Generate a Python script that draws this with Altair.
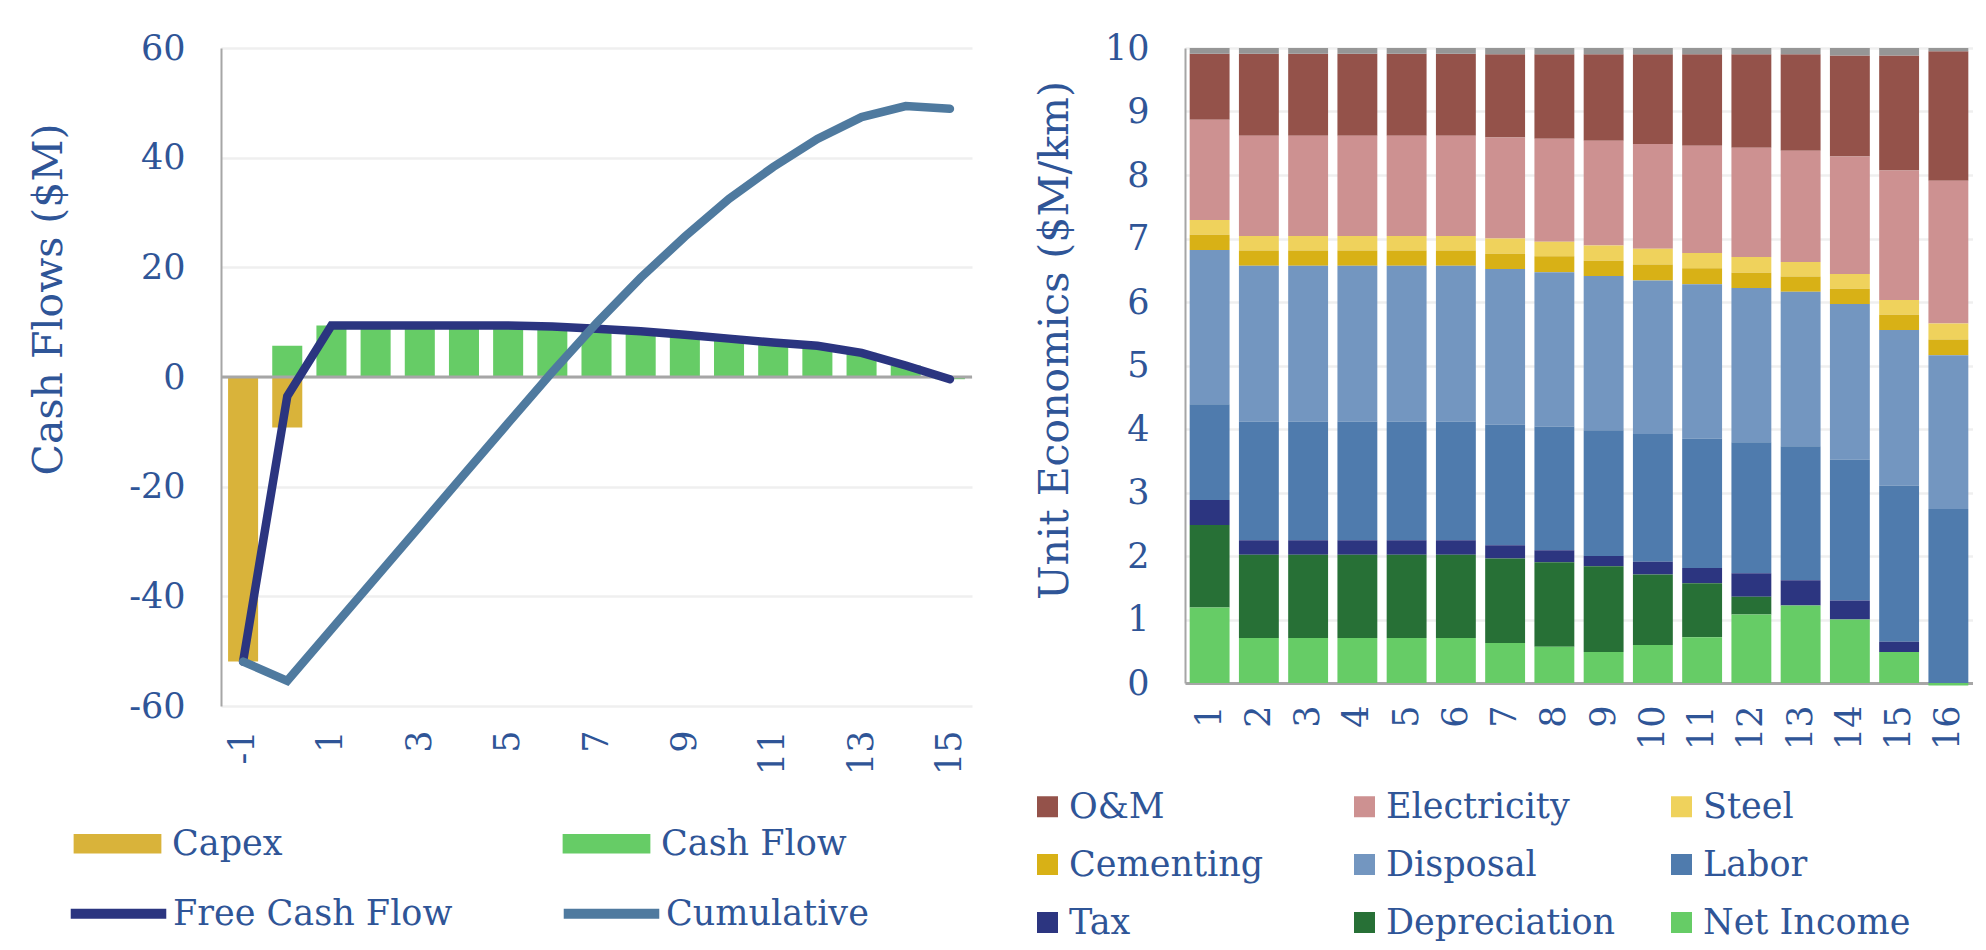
import altair as alt
import pandas as pd

# ---------------- Cash flow panel ($M by project year) ----------------
years = list(range(-1, 16))
capex = [-51.9, -9.2, 0, 0, 0, 0, 0, 0, 0, 0, 0, 0, 0, 0, 0, 0, 0]
cash_flow = [0, 5.7, 9.4, 9.4, 9.4, 9.4, 9.4, 9.2, 8.8, 8.35, 7.7, 7.0, 6.3, 5.7, 4.4, 2.1, -0.4]
free_cash_flow = [-51.9, -3.5, 9.4, 9.4, 9.4, 9.4, 9.4, 9.2, 8.8, 8.35, 7.7, 7.0, 6.3, 5.7, 4.4, 2.1, -0.4]
cumulative = [-51.9, -55.4, -46.0, -36.6, -27.2, -17.8, -8.4, 0.9, 9.8, 18.1, 25.6, 32.5, 38.3, 43.4, 47.4, 49.4, 48.9]
odd_year_ticks = [-1, 1, 3, 5, 7, 9, 11, 13, 15]

# ---------------- Unit economics panel ($M/km by year) ----------------
periods = list(range(1, 17))
om = [1.04, 1.29, 1.29, 1.29, 1.29, 1.29, 1.31, 1.33, 1.36, 1.41, 1.44, 1.47, 1.52, 1.59, 1.81, 2.04]
electricity = [1.58, 1.58, 1.58, 1.58, 1.58, 1.58, 1.59, 1.62, 1.65, 1.65, 1.69, 1.72, 1.75, 1.85, 2.04, 2.25]
steel = [0.23, 0.23, 0.23, 0.23, 0.23, 0.23, 0.24, 0.23, 0.24, 0.25, 0.24, 0.25, 0.23, 0.23, 0.23, 0.25]
cementing = [0.24, 0.24, 0.24, 0.24, 0.24, 0.24, 0.24, 0.25, 0.24, 0.25, 0.25, 0.24, 0.24, 0.24, 0.24, 0.25]
disposal = [2.43, 2.45, 2.45, 2.45, 2.45, 2.45, 2.45, 2.43, 2.43, 2.42, 2.43, 2.43, 2.43, 2.45, 2.45, 2.42]
labor = [1.51, 1.87, 1.87, 1.87, 1.87, 1.87, 1.90, 1.95, 1.98, 2.01, 2.04, 2.06, 2.11, 2.22, 2.46, 2.74]
tax = [0.39, 0.23, 0.23, 0.23, 0.23, 0.23, 0.21, 0.19, 0.16, 0.20, 0.24, 0.37, 0.40, 0.30, 0.16, 0.0]
depreciation = [1.30, 1.31, 1.31, 1.31, 1.31, 1.31, 1.33, 1.33, 1.35, 1.11, 0.85, 0.28, 0.0, 0.0, 0.0, 0.0]
net_income = [1.19, 0.71, 0.71, 0.71, 0.71, 0.71, 0.63, 0.57, 0.49, 0.60, 0.72, 1.08, 1.22, 1.00, 0.49, -0.04]
other = [0.09, 0.09, 0.09, 0.09, 0.09, 0.09, 0.10, 0.10, 0.10, 0.10, 0.10, 0.10, 0.10, 0.12, 0.12, 0.05]

FONT = "DejaVu Serif"
TEXT = "#2F5597"
AXIS_GREY = "#A6A6A6"
GRID = "#EFEFEF"

# ---- long-form tables ----
bar_rows = []
for series, vals in [("Capex", capex), ("Cash Flow", cash_flow)]:
    for yr, v in zip(years, vals):
        if v != 0:
            bar_rows.append({"year": yr, "series": series, "value": v})
bar_df = pd.DataFrame(bar_rows)

line_rows = []
for series, vals in [("Free Cash Flow", free_cash_flow), ("Cumulative", cumulative)]:
    for yr, v in zip(years, vals):
        line_rows.append({"year": yr, "series": series, "value": v})
line_df = pd.DataFrame(line_rows)

legend_order = ["O&M", "Electricity", "Steel", "Cementing", "Disposal",
                "Labor", "Tax", "Depreciation", "Net Income", "Other"]
component_colors = ["#94524A", "#CD9191", "#EFD25C", "#D8B116", "#7396C0",
                    "#4F7BAD", "#2C3580", "#277036", "#66CC66", "#969696"]
component_values = {
    "O&M": om, "Electricity": electricity, "Steel": steel, "Cementing": cementing,
    "Disposal": disposal, "Labor": labor, "Tax": tax, "Depreciation": depreciation,
    "Net Income": net_income, "Other": other,
}
stack_bottom_up = ["Net Income", "Depreciation", "Tax", "Labor", "Disposal",
                   "Cementing", "Steel", "Electricity", "O&M", "Other"]
unit_rows = []
for comp in legend_order:
    for p, v in zip(periods, component_values[comp]):
        unit_rows.append({"period": p, "component": comp, "value": v,
                          "rank": stack_bottom_up.index(comp)})
unit_df = pd.DataFrame(unit_rows)

label_style = dict(labelFont=FONT, labelFontSize=35, labelColor=TEXT)
title_style = dict(titleFont=FONT, titleFontSize=41, titleFontWeight="normal", titleColor=TEXT)
hyphen_labels = "datum.value < 0 ? '-' + abs(datum.value) : '' + datum.value"

# ---------------- left: cash flows ----------------
x_left = alt.X(
    "year:O", title=None,
    scale=alt.Scale(paddingInner=0.32, paddingOuter=0.16),
    axis=alt.Axis(values=odd_year_ticks, labelAngle=270, domain=False, ticks=False,
                  grid=False, labelPadding=24, **label_style),
)
y_left = alt.Y(
    "value:Q", title="Cash Flows ($M)",
    scale=alt.Scale(domain=[-60, 60], nice=False),
    axis=alt.Axis(values=[-60, -40, -20, 0, 20, 40, 60], ticks=False, domain=True,
                  domainColor=AXIS_GREY, domainWidth=2, gridColor=GRID, gridWidth=2.5,
                  labelPadding=36, labelExpr=hyphen_labels,
                  titleX=-172, titleY=251, titleAngle=270,
                  titleAlign="center", titleBaseline="middle",
                  **label_style, **title_style),
)

bars = alt.Chart(bar_df).mark_bar().encode(
    x=x_left,
    y=y_left,
    color=alt.Color(
        "series:N",
        scale=alt.Scale(domain=["Capex", "Cash Flow"], range=["#D9B33A", "#66CC66"]),
        legend=alt.Legend(
            title=None, orient="none", direction="horizontal", legendX=-147, legendY=776,
            columns=2, gridAlign="all", columnPadding=204, padding=0,
            symbolType="M-2.25,-0.5H2.25V0.5H-2.25Z", symbolSize=1521,
            symbolStrokeWidth=0, symbolOffset=24, labelOffset=35,
            labelLimit=600, labelFont=FONT, labelFontSize=35, labelColor=TEXT,
        ),
    ),
)

zero_line = alt.Chart(pd.DataFrame({"zero": [0]})).mark_rule(
    color=AXIS_GREY, strokeWidth=3
).encode(y=alt.Y("zero:Q"))

lines = alt.Chart(line_df).mark_line(strokeWidth=8.5, strokeCap="round").encode(
    x=x_left,
    y=alt.Y("value:Q"),
    stroke=alt.Stroke(
        "series:N",
        scale=alt.Scale(domain=["Free Cash Flow", "Cumulative"], range=["#2B3580", "#4F7A9F"]),
        legend=alt.Legend(
            title=None, orient="none", direction="horizontal", legendX=-147, legendY=841,
            columns=2, gridAlign="all", columnPadding=90, padding=0,
            symbolType="M-2.45,0H2.45", symbolSize=1521, symbolStrokeWidth=10,
            symbolOffset=20, labelOffset=30,
            labelLimit=600, labelFont=FONT, labelFontSize=35, labelColor=TEXT,
        ),
    ),
)

left = alt.layer(bars, zero_line, lines).properties(width=751, height=658)

# ---------------- right: unit economics ----------------
right = alt.Chart(unit_df).mark_bar().encode(
    x=alt.X(
        "period:O", title=None,
        scale=alt.Scale(paddingInner=0.19, paddingOuter=0.095),
        axis=alt.Axis(labelAngle=270, domain=True, domainColor=AXIS_GREY, domainWidth=3,
                      ticks=False, grid=False, labelPadding=22, **label_style),
    ),
    y=alt.Y(
        "value:Q", title="Unit Economics ($M/km)", stack="zero",
        scale=alt.Scale(domain=[0, 10], nice=False),
        axis=alt.Axis(values=list(range(0, 11)), ticks=False, domain=True,
                      domainColor=AXIS_GREY, domainWidth=2, gridColor=GRID, gridWidth=2.5,
                      labelPadding=36, titleX=-130, titleY=292, titleAngle=270,
                      titleAlign="center", titleBaseline="middle",
                      **label_style, **title_style),
    ),
    color=alt.Color(
        "component:N",
        scale=alt.Scale(domain=legend_order, range=component_colors),
        legend=alt.Legend(
            title=None, values=legend_order[:9], orient="none", direction="horizontal",
            legendX=-155, legendY=741, columns=3, gridAlign="all", columnPadding=48,
            rowPadding=22, padding=0,
            symbolType="square", symbolSize=441, symbolStrokeWidth=0, labelOffset=4,
            labelLimit=600, labelFont=FONT, labelFontSize=35, labelColor=TEXT,
        ),
    ),
    order=alt.Order("rank:Q", sort="ascending"),
).properties(width=788, height=635)

chart = (
    alt.hconcat(left, right, spacing=213, bounds="flush")
    .resolve_scale(color="independent")
    .properties(padding={"left": 28, "top": 31, "right": 0, "bottom": 0}, background="white")
    .configure_view(stroke=None)
)

chart.save("out.html", embed_options={"renderer": "svg", "actions": False})
